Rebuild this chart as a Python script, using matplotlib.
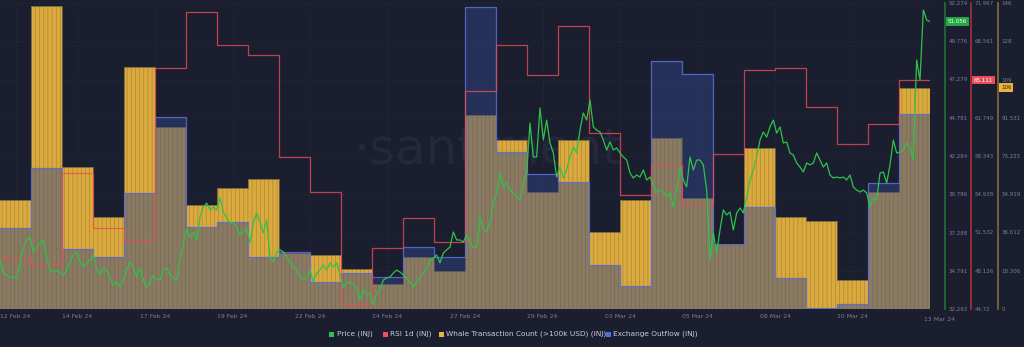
import numpy as np
import matplotlib
matplotlib.use('Agg')
import matplotlib.pyplot as plt
from matplotlib.patches import Rectangle
from matplotlib.transforms import blended_transform_factory

# daily values, 12 Feb 24 -> 12 Mar 24
whale_count = [52, 145, 68, 44, 116, 87, 50, 58, 62, 27, 26, 19, 12, 25, 18,
               93, 81, 56, 81, 37, 52, 82, 53, 31, 77, 44, 42, 14, 56, 106]
# exchange outflow, relative units (its axis is hidden on the chart)
exchange_outflow = [81, 141, 60, 52, 116, 192, 82, 87, 52, 57, 27, 36, 32, 62, 52,
                    302, 157, 135, 127, 44, 23, 248, 235, 64, 102, 31, 1, 5, 126, 195]
rsi_1d = [49.26, 48.73, 56.83, 51.93, 50.86, 66.18, 71.16, 68.23, 67.34, 58.25,
          55.14, 45.17, 50.15, 52.82, 50.69, 64.13, 68.23, 65.56, 69.92, 60.39,
          54.87, 57.54, 54.07, 58.52, 66.00, 66.18, 62.71, 59.41, 61.19, 65.11]

# price, evenly spaced from 12 Feb 00:00 to 13 Mar 00:00
price = [
    35.49, 34.64, 34.51, 34.38, 34.38, 34.32, 35.30, 36.28, 36.80, 36.99, 36.02, 36.34,
    36.60, 36.80, 35.69, 34.84, 34.71, 34.84, 34.64, 34.51, 34.84, 35.36, 35.82, 36.02,
    35.36, 35.04, 35.30, 35.49, 35.82, 34.84, 34.51, 34.97, 34.84, 34.32, 33.86, 34.06,
    33.73, 34.19, 34.84, 35.36, 35.04, 34.38, 34.97, 34.19, 33.73, 33.99, 34.51, 34.19,
    34.19, 34.84, 34.97, 34.51, 34.32, 34.19, 35.49, 36.60, 37.58, 36.99, 37.26, 36.80,
    38.30, 38.95, 39.21, 38.76, 38.95, 38.76, 39.54, 38.63, 38.24, 37.91, 37.97, 37.65,
    37.13, 37.32, 37.58, 36.60, 37.91, 38.56, 37.97, 37.26, 38.10, 35.69, 35.36, 36.02,
    36.15, 36.02, 35.69, 35.36, 35.04, 34.84, 34.38, 34.19, 34.38, 34.84, 34.06,
    34.64, 34.84, 35.17, 34.84, 35.30, 35.04, 35.30, 34.51, 33.73, 33.99, 34.06, 33.86,
    33.66, 32.88, 33.53, 33.21, 33.34, 32.55, 33.34, 33.53, 34.19, 34.32, 34.38, 34.64,
    34.84, 34.71, 34.51, 34.32, 34.06, 33.73, 34.06, 34.32, 34.64, 34.97, 35.49, 35.62,
    35.82, 35.30, 35.95, 36.15, 36.34, 37.32, 36.80, 36.80, 36.67, 37.13,
    36.60, 36.28, 36.34, 38.30, 37.45, 37.32, 37.91, 39.21, 39.87, 41.17, 40.26, 40.52,
    40.06, 39.87, 39.61, 39.41, 40.52, 41.17, 44.44, 42.22, 42.22, 45.42, 43.33, 44.63,
    43.13, 42.48, 40.91, 41.56, 40.85, 41.37, 42.22, 42.87, 42.48, 43.98, 45.09, 44.63,
    45.94, 44.18, 43.98, 43.85, 43.33, 42.67, 43.20, 42.67, 42.81, 42.48, 42.22, 42.02,
    41.17, 40.85, 41.04, 40.91, 41.37, 40.72, 40.91, 40.39, 39.93, 40.06, 39.93, 39.61,
    39.87, 38.95, 40.06, 41.56, 40.72, 40.26, 42.22, 41.37, 42.02, 42.02, 41.70, 40.06,
    35.49, 37.26, 35.95, 37.45, 38.76, 38.43, 38.63, 37.45, 38.56, 38.89, 38.56, 39.61,
    40.72, 41.37, 42.22, 43.33, 43.85, 43.52, 44.18, 44.63, 43.78,
    44.18, 43.13, 43.20, 42.48, 42.35, 41.83, 41.56, 41.24, 41.83, 41.70, 41.83, 42.48,
    42.02, 41.56, 41.83, 41.04, 40.85, 40.91, 40.85, 40.91, 40.72, 41.04, 40.26, 40.06,
    39.93, 40.06, 39.87, 38.95, 39.54, 39.41, 41.17, 41.24, 40.52, 41.70, 43.33, 42.48,
    42.54, 42.67, 43.13, 42.87, 42.02, 48.55, 47.24, 51.82, 51.16, 51.06,
]

date_ticks = [0.5, 2.5, 5, 7.5, 10, 12.5, 15, 17.5, 20, 22.5, 25, 27.5]
date_labels = ['12 Feb 24', '14 Feb 24', '17 Feb 24', '19 Feb 24', '22 Feb 24', '24 Feb 24',
               '27 Feb 24', '29 Feb 24', '03 Mar 24', '05 Mar 24', '08 Mar 24', '10 Mar 24']

price_ticks = [32.293, 34.791, 37.288, 39.786, 42.284, 44.781, 47.279, 49.776, 52.274]
rsi_ticks = [44.72, 48.126, 51.532, 54.938, 58.343, 61.749, 68.561, 71.967]
whale_ticks = [0, 18.306, 36.612, 54.919, 73.225, 91.531, 109.836, 128.142, 146.448]
whale_tick_labels = ['0', '18.306', '36.612', '54.919', '73.225', '91.531', '109', '128', '146']

BG = '#1b1e2f'
TXT = '#7b7f92'
YELLOW = '#dcaa3c'
AX_FS = 4.0

plt.rcParams['hatch.color'] = '#a4843a'
plt.rcParams['hatch.linewidth'] = 0.45

fig = plt.figure(figsize=(10.24, 3.47), dpi=100, facecolor=BG)
W, H = 1024, 347
ax = fig.add_axes([0, 1 - 309 / H, 930 / W, 306 / H])
ax.set_facecolor(BG)

days = np.arange(len(whale_count) + 1)

# whale bars
ax.bar(days[:-1] + 0.5, whale_count, width=1.0, color=YELLOW, hatch='||||', linewidth=0, zorder=2)
ax.step(days, whale_count + [whale_count[-1]], where='post', color='#6f6440', lw=0.6, zorder=3)
ax.set_xlim(0, 30)
ax.set_ylim(0, 146.448)
ax.set_xticks(date_ticks)
ax.set_xticklabels(date_labels)
ax.tick_params(axis='x', length=0, pad=3.5, labelsize=4.4, labelcolor=TXT)
ax.grid(True, color='#272b3e', lw=0.5, ls=(0, (3, 3)), zorder=0)
ax.set_axisbelow(True)
ax.text(30.3, -0.026, '13 Mar 24', transform=blended_transform_factory(ax.transData, ax.transAxes),
        ha='center', va='top', fontsize=4.4, color=TXT, clip_on=False)
ax.text(15.75, 0.52, '\u00b7santiment', transform=blended_transform_factory(ax.transData, ax.transAxes),
        ha='center', va='center', fontsize=36, color='#24283a', zorder=1)

# exchange outflow
ax_out = ax.twinx()
ax_out.fill_between(days, exchange_outflow + [exchange_outflow[-1]], step='post',
                    color='#344789', alpha=0.48, lw=0)
ax_out.step(days, exchange_outflow + [exchange_outflow[-1]], where='post', color='#5a6fd6', lw=0.9, alpha=0.85)
ax_out.set_ylim(0, 306)
ax_out.set_xlim(0, 30)
ax_out.axis('off')

# RSI
ax_rsi = ax.twinx()
ax_rsi.step(days, rsi_1d + [rsi_1d[-1]], where='post', color='#f04a55', lw=0.9, alpha=0.78)
ax_rsi.set_ylim(44.72, 71.967)
ax_rsi.set_xlim(0, 30)
for s in ['left', 'top', 'bottom']:
    ax_rsi.spines[s].set_visible(False)
ax_rsi.spines['right'].set_position(('axes', 971 / 930))
ax_rsi.spines['right'].set_color('#9a2f3a')
ax_rsi.spines['right'].set_linewidth(1.3)
ax_rsi.set_yticks(rsi_ticks)
ax_rsi.set_yticklabels([f'{v:g}' for v in rsi_ticks])
ax_rsi.tick_params(axis='y', length=0, pad=2.5, labelsize=AX_FS, labelcolor=TXT)

# price
ax_p = ax.twinx()
t = np.linspace(0, 30, len(price))
ax_p.plot(t, price, color='#2fc24a', lw=0.9)
ax_p.set_ylim(32.293, 52.274)
ax_p.set_xlim(0, 30)
for s in ['left', 'top', 'bottom']:
    ax_p.spines[s].set_visible(False)
ax_p.spines['right'].set_position(('axes', 945 / 930))
ax_p.spines['right'].set_color('#1f6b36')
ax_p.spines['right'].set_linewidth(1.3)
ax_p.set_yticks(price_ticks)
ax_p.set_yticklabels([f'{v:.3f}' for v in price_ticks])
ax_p.tick_params(axis='y', length=0, pad=2.5, labelsize=AX_FS, labelcolor=TXT)

# whale axis on the far right (after twinx, which moves host ticks to the left)
for s in ['left', 'top', 'bottom']:
    ax.spines[s].set_visible(False)
ax.yaxis.tick_right()
ax.spines['right'].set_visible(True)
ax.spines['right'].set_position(('axes', 998 / 930))
ax.spines['right'].set_color('#7c6634')
ax.spines['right'].set_linewidth(1.3)
ax.set_yticks(whale_ticks)
ax.set_yticklabels(whale_tick_labels)
ax.tick_params(axis='y', length=0, pad=2.5, labelsize=AX_FS, labelcolor=TXT)

# last value badges
ax_p.text(948 / 930, price[-1], '51.056',
          transform=blended_transform_factory(ax.transAxes, ax_p.transData),
          ha='left', va='center', fontsize=AX_FS, color='white',
          bbox=dict(boxstyle='square,pad=0.3', fc='#26a744', ec='none'))
ax_rsi.text(974 / 930, rsi_1d[-1], '65.111',
            transform=blended_transform_factory(ax.transAxes, ax_rsi.transData),
            ha='left', va='center', fontsize=AX_FS, color='white',
            bbox=dict(boxstyle='square,pad=0.3', fc='#e64f58', ec='none'))
ax.text(1001 / 930, whale_count[-1], str(whale_count[-1]),
        transform=blended_transform_factory(ax.transAxes, ax.transData),
        ha='left', va='center', fontsize=AX_FS, color='#2a2410',
        bbox=dict(boxstyle='square,pad=0.3', fc='#e8b43e', ec='none'))

# legend
legend_items = [('Price (INJ)', '#2fc24a', 329, 337),
                ('RSI 1d (INJ)', '#f0505a', 383, 390),
                ('Whale Transaction Count (>100k USD) (INJ)', '#e8b43e', 439, 446),
                ('Exchange Outflow (INJ)', '#4f6df0', 606, 613)]
for label, col, xs, xt in legend_items:
    fig.add_artist(Rectangle((xs / W, 1 - 336.5 / H), 4.5 / W, 4.5 / H,
                             transform=fig.transFigure, fc=col, ec='none'))
    fig.text(xt / W, 1 - 334 / H, label, ha='left', va='center', fontsize=5.3, color='#c9cbd4')

fig.savefig('out.png', dpi=100, facecolor=BG)
